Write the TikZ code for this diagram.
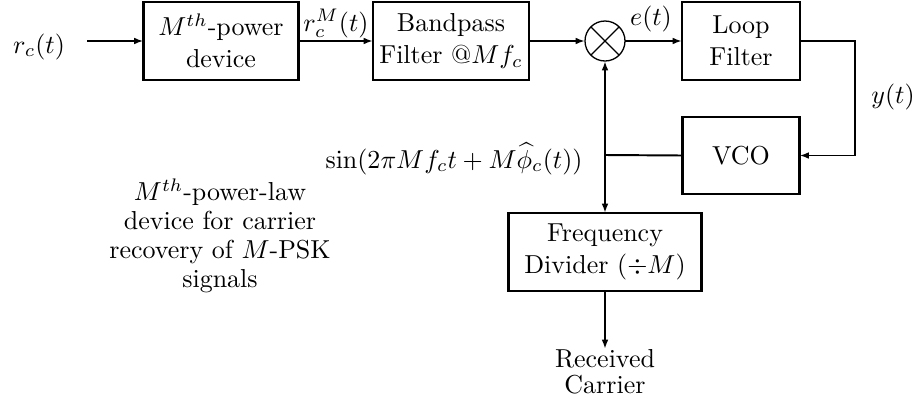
\documentclass[tikz,border=0pt]{standalone}
\usetikzlibrary{arrows.meta}
\begin{document}
\begin{tikzpicture}[x=0.385pt,y=-0.385pt,
  blk/.style={draw,line width=1pt,inner sep=0pt,outer sep=0pt,align=center,
    font=\fontsize{10}{12.3}\selectfont},
  sig/.style={line width=0.75pt,-{Latex[length=3.6pt,width=2.6pt]}},
  wire/.style={line width=0.75pt},
  lbl/.style={inner sep=0pt,font=\fontsize{10}{12}\selectfont}]
\useasboundingbox (0,0) rectangle (917,399);

% blocks
\node[blk,minimum width={155*0.385pt},minimum height={78*0.385pt}] (pow) at (221,41)
  {$M^{th}$-power\\device};
\node[blk,minimum width={156*0.385pt},minimum height={78*0.385pt}] (bpf) at (451,41)
  {Bandpass\\Filter @$Mf_c$};
\node[draw,circle,line width=0.5pt,inner sep=0pt,outer sep=0pt,minimum size={40*0.385pt}] (mix) at (605,41) {};
\draw[line width=0.5pt] (mix.north west) -- (mix.south east) (mix.north east) -- (mix.south west);
\node[blk,minimum width={118*0.385pt},minimum height={78*0.385pt}] (lf) at (741,41)
  {Loop\\Filter};
\node[blk,minimum width={117*0.385pt},minimum height={77*0.385pt}] (vco) at (741,155.5)
  {VCO};
\node[blk,minimum width={193*0.385pt},minimum height={78*0.385pt}] (div) at (605,252)
  {Frequency\\Divider $(\div M)$};

% signal labels
\node[lbl,anchor=base] (rin) at (39,53) {$r_c(t)$};
\coordinate (src) at (87,41);
\node[lbl,anchor=base] (rm) at (336,31) {$r_c^M(t)$};
\node[lbl,anchor=base] (et) at (651,25) {$e(t)$};
\node[lbl,anchor=base] (yt) at (893,103) {$y(t)$};
\node[lbl,anchor=base east] (vout) at (583,168) {$\sin(2\pi Mf_ct+M\widehat{\phi}_c(t))$};
\node[lbl,anchor=north,align=center,font=\fontsize{10}{10}\selectfont] (rc) at (605,349) {Received\\Carrier};
\node[lbl,align=center,font=\fontsize{10}{11.2}\selectfont] (note) at (220,236)
  {$M^{th}$-power-law\\device for carrier\\recovery of $M$-PSK\\signals};

% connections
\coordinate (j) at (605,155);
\draw[sig] (src) -- (pow);
\draw[sig] (pow) -- (bpf);
\draw[sig] (bpf) -- (mix);
\draw[sig] (mix) -- (lf);
\draw[sig] (lf.east) -- ++(55,0) |- (vco.east);
\draw[wire] (vco.west) -- (j);
\draw[sig] (j) -- (mix.south);
\draw[sig] (j) -- (div.north);
\draw[sig] (div.south) -- (rc.north);
\end{tikzpicture}
\end{document}
